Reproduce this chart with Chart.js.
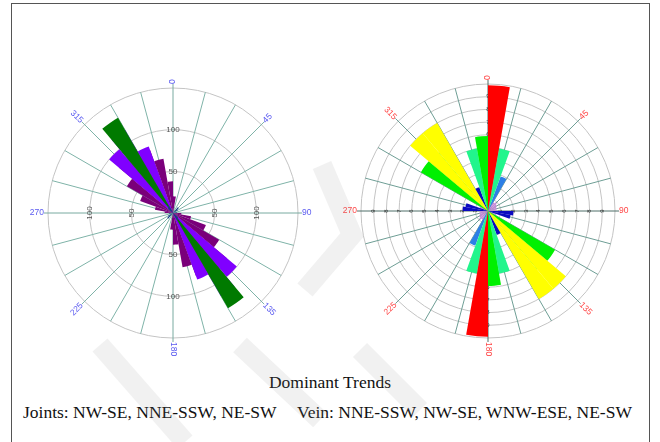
<!DOCTYPE html>
<html>
<head>
<meta charset="utf-8">
<script src="https://cdn.jsdelivr.net/npm/chart.js@4.4.0/dist/chart.umd.min.js"></script>
<style>
  html, body { margin: 0; padding: 0; background: #fff; }
  #page { position: relative; width: 660px; height: 442px; overflow: hidden; }
  #frame { position: absolute; left: 11px; top: 3px; width: 637px; height: 460px; border: 1px solid #555; }
  canvas { position: absolute; }
  #joints { left: 23px; top: 63px; }
  #vein { left: 338px; top: 61px; }
  #mark { left: 0; top: 0; pointer-events: none; }
  .cap { position: absolute; font-family: "Liberation Serif", "Times New Roman", serif; font-size: 17.5px; line-height: 20px; color: #111; white-space: pre; }
  #title { left: 0; width: 660px; text-align: center; top: 372px; }
  #j { left: 23px; top: 402px; }
  #v { left: 297px; top: 402px; }
</style>
</head>
<body>
<div id="page">
  <div id="frame"></div>
  <canvas id="joints" width="300" height="300"></canvas>
  <canvas id="vein" width="300" height="300"></canvas>
  <div class="cap" id="title">Dominant Trends</div>
  <div class="cap" id="j">Joints: NW-SE, NNE-SSW, NE-SW</div>
  <div class="cap" id="v">Vein: NNE-SSW, NW-SE, WNW-ESE, NE-SW</div>
  <canvas id="mark" width="660" height="442"></canvas>
</div>
<script>
// 10 degree bins, clockwise from north
const bins = ['0','10','20','30','40','50','60','70','80',
              '90','100','110','120','130','140','150','160','170',
              '180','190','200','210','220','230','240','250','260',
              '270','280','290','300','310','320','330','340','350'];

// Joints (counts)
const jointsGreen  = [0,0,0,0,0,0,0,0,0,  0,0,0,0,0,132,0,0,0,  0,0,0,0,0,0,0,0,0,  0,0,0,0,0,132,0,0,0];
const jointsViolet = [0,0,0,0,0,0,0,0,0,  0,0,0,0,100,115,85,0,0,  0,0,0,0,0,0,0,0,0,  0,0,0,0,100,115,85,0,0];
const jointsPurple = [20,0,0,0,0,0,0,0,0,  10,22,42,64,85,95,80,66,38,  20,0,0,0,0,0,0,0,0,  10,22,42,64,85,95,80,66,38];
const jointsNavy   = [0,0,0,0,9,7,0,0,5,  0,0,0,0,8,10,0,0,0,  0,0,0,0,9,7,0,0,5,  0,0,0,0,8,10,0,0,0];
const jointsRings  = [50, 100];

// Vein (per cent)
const veinRed    = [9.9,0,0,0,0,0,0,0,0,  0,0,0,0,0,0,0,0,0,  9.9,0,0,0,0,0,0,0,0,  0,0,0,0,0,0,0,0,0];
const veinYellow = [0,0,0,0,0,0,0,0,0,  0,0,0,0,8,8,0,0,0,  0,0,0,0,0,0,0,0,0,  0,0,0,0,8,8,0,0,0];
const veinGreen  = [0,0,0,0,0,0,0,0,0,  0,0,0,6.1,6,0,0,0,5.9,  0,0,0,0,0,0,0,0,0,  0,0,0,6.1,6,0,0,0,5.9];
const veinMint   = [5,5,0,0,0,0,0,0,0,  0,0,0,0,0,0,0,5,5,  5,5,0,0,0,0,0,0,0,  0,0,0,0,0,0,0,5,5];
const veinBlue   = [0,0,2.9,0,0,0,0,0,0,  0,0,0,0,0,0,0,0,0,  0,0,2.9,0,0,0,0,0,0,  0,0,0,0,0,0,0,0,0];
const veinNavy   = [0,0,0,0,0,0,0,0,0,  2,1.8,0,0,0,0,2,0,0,  0,0,0,0,0,0,0,0,0,  2,1.8,0,0,0,0,2,0,0];
const veinPink   = [0,0,0,0.8,0.9,0.8,0.7,0.7,0.6,  0,0,0.7,0,0,0,0,0,0,  0,0,0,0.8,0.9,0.8,0.7,0.7,0.6,  0,0,0.7,0,0,0,0,0,0];
const veinRings  = [1,2,3,4,5,6,7,8,9];

const compassLabels = [0, 45, 90, 135, 180, 225, 270, 315];

// spokes, ring numbers and compass labels
const roseGrid = {
  id: 'roseGrid',
  beforeDatasetsDraw(chart, args, o) {
    const s = chart.scales.r;
    const ctx = chart.ctx;
    const cx = s.xCenter, cy = s.yCenter, R = s.drawingArea;
    ctx.save();
    ctx.lineWidth = 1;
    for (let a = 0; a < 360; a += 15) {
      const t = (a - 90) * Math.PI / 180;
      const len = a % 45 === 0 ? R + 4 : R;
      ctx.strokeStyle = a % 90 === 0 ? o.axisColor : o.spokeColor;
      ctx.beginPath();
      ctx.moveTo(cx, cy);
      ctx.lineTo(cx + Math.cos(t) * len, cy + Math.sin(t) * len);
      ctx.stroke();
    }
    ctx.fillStyle = o.tickColor;
    ctx.font = o.tickFont;
    ctx.textAlign = 'center';
    ctx.textBaseline = 'middle';
    o.rings.forEach(v => {
      const r = s.getDistanceFromCenterForValue(v);
      ctx.fillText(String(v), cx, cy - r);
      ctx.fillText(String(v), cx, cy + r);
      [-r, r].forEach(dx => {
        ctx.save();
        ctx.translate(cx + dx, cy);
        ctx.rotate(-Math.PI / 2);
        ctx.fillText(String(v), 0, 0);
        ctx.restore();
      });
    });
    ctx.restore();
  },
  afterDraw(chart, args, o) {
    const s = chart.scales.r;
    const ctx = chart.ctx;
    const cx = s.xCenter, cy = s.yCenter, R = s.drawingArea;
    ctx.save();
    ctx.fillStyle = o.labelColor;
    ctx.font = o.labelFont;
    ctx.textAlign = 'center';
    ctx.textBaseline = 'middle';
    compassLabels.forEach(a => {
      const txt = String(a);
      const w = ctx.measureText(txt).width;
      const th = a - 90;
      const t = th * Math.PI / 180;
      const d = R + 4 + w / 2;
      let rot = th;
      if (rot > 90) rot -= 180;
      ctx.save();
      ctx.translate(cx + Math.cos(t) * d, cy + Math.sin(t) * d);
      ctx.rotate(rot * Math.PI / 180);
      ctx.fillText(txt, 0, 0);
      ctx.restore();
    });
    ctx.restore();
  }
};

function rose(id, datasets, max, step, pad, grid) {
  return new Chart(document.getElementById(id), {
    type: 'polarArea',
    data: { labels: bins, datasets: datasets },
    options: {
      responsive: false,
      animation: false,
      events: [],
      layout: { padding: pad },
      elements: { arc: { borderWidth: 0 } },
      plugins: { legend: { display: false }, tooltip: { enabled: false }, roseGrid: grid },
      scales: {
        r: {
          min: 0, max: max,
          ticks: { display: false, stepSize: step },
          grid: { circular: true, color: '#c4c4c4', lineWidth: 1 },
          angleLines: { display: false },
          pointLabels: { display: false }
        }
      }
    },
    plugins: [roseGrid]
  });
}

rose('joints', [
  { data: jointsNavy, backgroundColor: '#123f86' },
  { data: jointsGreen, backgroundColor: '#007a00' },
  { data: jointsViolet, backgroundColor: '#8000ff' },
  { data: jointsPurple, backgroundColor: '#7a007a' }
], 150, 50, 25, {
  spokeColor: '#7fb3a8', axisColor: '#79aaa0', tickColor: '#555',
  tickFont: '8px "Liberation Sans", Arial', labelColor: '#5a5af0',
  labelFont: '8.5px "Liberation Sans", Arial', rings: jointsRings
});

rose('vein', [
  { data: veinRed, backgroundColor: '#ff0000' },
  { data: veinYellow, backgroundColor: '#ffff00' },
  { data: veinGreen, backgroundColor: '#00f000' },
  { data: veinMint, backgroundColor: '#22f58c' },
  { data: veinBlue, backgroundColor: '#2d7fe6' },
  { data: veinNavy, backgroundColor: '#0a0ac0' },
  { data: veinPink, backgroundColor: '#c58ad6' }
], 10, 1, 23, {
  spokeColor: '#6e9e95', axisColor: '#4f6f68', tickColor: '#333',
  tickFont: '6px "Liberation Sans", Arial', labelColor: '#ff4646',
  labelFont: '8.5px "Liberation Sans", Arial', rings: veinRings
});

// faint watermark bands
const mk = document.getElementById('mark').getContext('2d');
mk.strokeStyle = 'rgba(140,140,140,0.12)';
mk.lineWidth = 20;
mk.lineCap = 'butt';
[
  [[322, 165], [352, 235], [305, 290]],
  [[100, 345], [185, 442]],
  [[240, 345], [320, 420]],
  [[360, 350], [420, 410]]
].forEach(pts => {
  mk.beginPath();
  mk.moveTo(pts[0][0], pts[0][1]);
  pts.slice(1).forEach(p => mk.lineTo(p[0], p[1]));
  mk.stroke();
});
</script>
</body>
</html>
